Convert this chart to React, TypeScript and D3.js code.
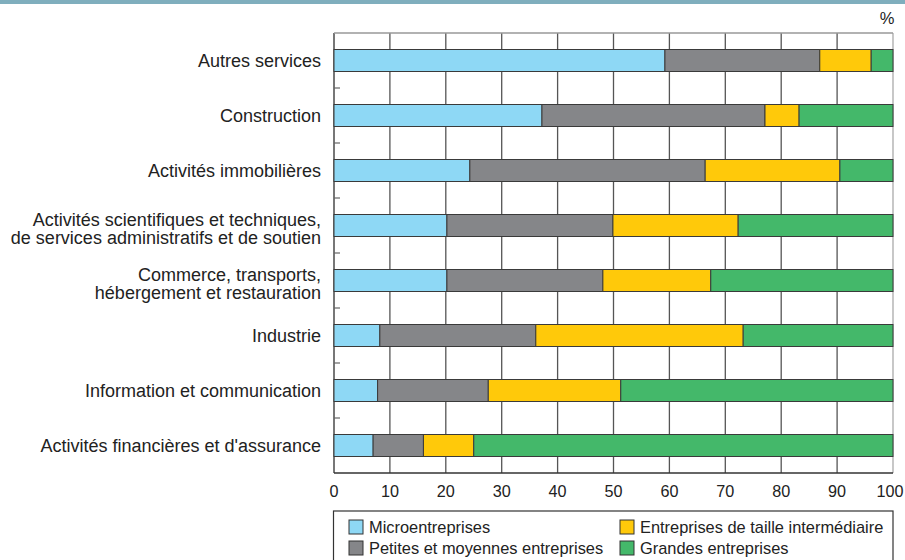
import React from "react";
import * as d3 from "d3";

const categories = [
  ["Autres services"],
  ["Construction"],
  ["Activités immobilières"],
  ["Activités scientifiques et techniques,", "de services administratifs et de soutien"],
  ["Commerce, transports,", "hébergement et restauration"],
  ["Industrie"],
  ["Information et communication"],
  ["Activités financières et d'assurance"],
];

const seriesNames = [
  "Microentreprises",
  "Petites et moyennes entreprises",
  "Entreprises de taille intermédiaire",
  "Grandes entreprises",
];

const micro = [59.2, 37.2, 24.3, 20.2, 20.2, 8.2, 7.8, 7.0];
const pme = [27.7, 39.9, 42.1, 29.7, 27.9, 27.9, 19.8, 9.0];
const eti = [9.2, 6.1, 24.1, 22.4, 19.3, 37.1, 23.7, 9.0];
const ge = [3.9, 16.8, 9.5, 27.7, 32.6, 26.8, 48.7, 75.0];

const xTicks = [0, 10, 20, 30, 40, 50, 60, 70, 80, 90, 100];

const colors = ["#8ed8f5", "#858689", "#ffc90a", "#44b86a"];

export default function App() {
  const W = 905;
  const H = 560;
  const left = 334;
  const right = 893;
  const top = 33;
  const bottom = 473;
  const font = "'Liberation Sans', Arial, sans-serif";

  const x = d3.scaleLinear().domain([0, 100]).range([left, right]);
  const band = d3.scaleBand<number>().domain(d3.range(categories.length)).range([top, bottom]);

  const rows = categories.map((_, i) => ({ i, v: [micro[i], pme[i], eti[i], ge[i]] }));
  const stack = rows.map((r) => {
    let acc = 0;
    return r.v.map((v, k) => {
      const s = acc;
      acc += v;
      return { k, x0: s, x1: Math.min(acc, 100) };
    });
  });

  const barH = 22;

  return (
    <svg
      width={W}
      height={H}
      style={{ position: "absolute", left: 0, top: 0, background: "#fff" }}
      fontFamily={font}
    >
      <rect x={0} y={0} width={W} height={4} fill="#7faebd" />
      <text x={887} y={18} dy="0.35em" fontSize={16.5} textAnchor="middle" fill="#222">
        %
      </text>

      {/* grid */}
      {xTicks.map((t) => (
        <line
          key={"g" + t}
          x1={x(t)}
          x2={x(t)}
          y1={top}
          y2={bottom}
          stroke={t === 100 ? "#aaa" : "#555"}
          strokeWidth={t === 0 ? 1.6 : 1.3}
        />
      ))}
      <line x1={left} x2={right} y1={top} y2={top} stroke="#999" strokeWidth={1.3} />
      <line x1={left} x2={right} y1={bottom} y2={bottom} stroke="#333" strokeWidth={1.6} />

      {/* left ticks between categories */}
      {d3.range(1, categories.length).map((i) => (
        <line
          key={"t" + i}
          x1={left}
          x2={left + 6}
          y1={band(i)!}
          y2={band(i)!}
          stroke="#666"
          strokeWidth={1.2}
        />
      ))}

      {/* bars */}
      {stack.map((segs, i) => {
        const cy = band(i)! + band.bandwidth() / 2;
        return (
          <g key={"b" + i}>
            {segs.map((s) => (
              <rect
                key={s.k}
                x={x(s.x0)}
                y={cy - barH / 2}
                width={x(s.x1) - x(s.x0)}
                height={barH}
                fill={colors[s.k]}
                stroke="#3a3a3a"
                strokeWidth={1}
              />
            ))}
          </g>
        );
      })}

      {/* category labels */}
      {categories.map((lines, i) => {
        const cy = band(i)! + band.bandwidth() / 2;
        const lh = 18;
        const start = lines.length === 1 ? cy : cy + 3 - lh / 2;
        return (
          <text key={"c" + i} x={321} fontSize={18} textAnchor="end" fill="#222">
            {lines.map((l, j) => (
              <tspan key={j} x={321} y={start + j * lh} dy="0.35em">
                {l}
              </tspan>
            ))}
          </text>
        );
      })}

      {/* x tick labels */}
      {xTicks.map((t) => (
        <text
          key={"x" + t}
          x={Math.min(x(t), W - 15)}
          y={491}
          dy="0.35em"
          fontSize={16.2}
          textAnchor="middle"
          fill="#222"
        >
          {t}
        </text>
      ))}

      {/* legend */}
      <rect x={333.5} y={511} width={893 - 333.5} height={60} fill="none" stroke="#333" strokeWidth={1.2} />
      {seriesNames.map((name, k) => {
        const col = k === 0 || k === 1 ? 0 : 1;
        const row = k === 0 || k === 2 ? 0 : 1;
        const lx = col === 0 ? 349 : 620;
        const ly = row === 0 ? 527 : 548;
        return (
          <g key={"l" + k}>
            <rect x={lx} y={ly - 7} width={14} height={14} fill={colors[k]} stroke="#333" strokeWidth={1} />
            <text x={lx + 20} y={ly} dy="0.35em" fontSize={16.4} fill="#222">
              {name}
            </text>
          </g>
        );
      })}
    </svg>
  );
}
